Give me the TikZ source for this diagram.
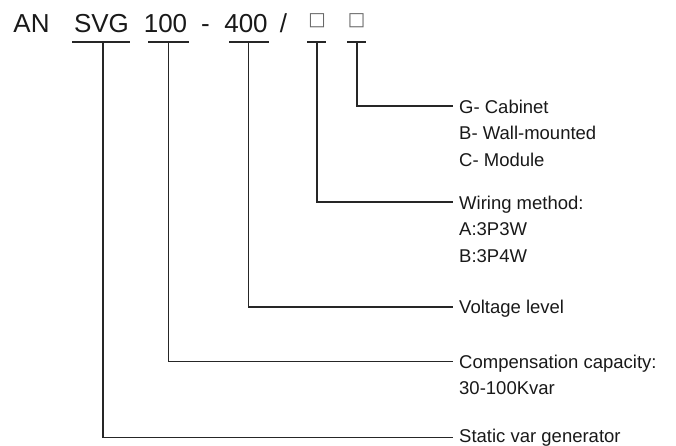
\documentclass[tikz,border=0pt]{standalone}
\usepackage{fontspec}
\setmainfont{Liberation Sans}
\newfontfamily\symfont{DejaVu Sans}
\usetikzlibrary{positioning}

\begin{document}
\begin{tikzpicture}[x=1pt, y=-1pt,
    code/.style={inner sep=0pt, anchor=base, text=black!90,
      font=\fontsize{26}{30}\selectfont},
    box/.style={inner sep=0pt, anchor=center, text=black!60,
      font=\fontsize{18.5}{22}\symfont},
    note/.style={inner sep=0pt, anchor=base west, align=left, text=black!90,
      font=\fontsize{18.5}{26.7}\selectfont},
    wire/.style={line width=1.7pt, draw=black!85}]
  \useasboundingbox (0,0) rectangle (676,445);
  \node[code] (an) at (31.5,32) {AN};
  \node[code] (svg) at (101.5,32) {SVG};
  \node[code] (cap) at (165.5,32) {100};
  \node[code] (dash) at (205.5,32) {-};
  \node[code] (volt) at (246,32) {400};
  \node[code] (slash) at (283.5,32) {/};
  \node[box] (sqa) at (317,20.5) {□};
  \node[box] (sqb) at (356.5,20.5) {□};
  \coordinate (tsvg) at (103,42);
  \coordinate (tcap) at (168.5,42);
  \coordinate (tvolt) at (248.5,42);
  \coordinate (tsqa) at (317,42);
  \coordinate (tsqb) at (357,42);
  \draw[wire] ([xshift=-31pt]tsvg) -- ([xshift=27pt]tsvg);
  \draw[wire] ([xshift=-20.5pt]tcap) -- ([xshift=20.5pt]tcap);
  \draw[wire] ([xshift=-19.5pt]tvolt) -- ([xshift=20.5pt]tvolt);
  \draw[wire] ([xshift=-10pt]tsqa) -- ([xshift=9pt]tsqa);
  \draw[wire] ([xshift=-10pt]tsqb) -- ([xshift=9pt]tsqb);
  \coordinate (ecab) at (453,106);
  \coordinate (ewire) at (453,202);
  \coordinate (evolt) at (453,307);
  \coordinate (ecap) at (453,361.5);
  \coordinate (esvg) at (453,437.5);
  \node[note] (cabinet) at (459,166.4) {G- Cabinet\\B- Wall-mounted\\C- Module};
  \node[note] (wiring) at (459,262.4) {Wiring method:\\A:3P3W\\B:3P4W};
  \node[note] (level) at (459,313.5) {Voltage level};
  \node[note] (capacity) at (459,394.7) {Compensation capacity:\\30-100Kvar};
  \node[note] (generator) at (459,442.5) {Static var generator};
  \draw[wire] (tsqb) |- (ecab);
  \draw[wire] (tsqa) |- (ewire);
  \draw[wire] (tvolt) |- (evolt);
  \draw[wire] (tcap) |- (ecap);
  \draw[wire] (tsvg) |- (esvg);
\end{tikzpicture}
\end{document}
